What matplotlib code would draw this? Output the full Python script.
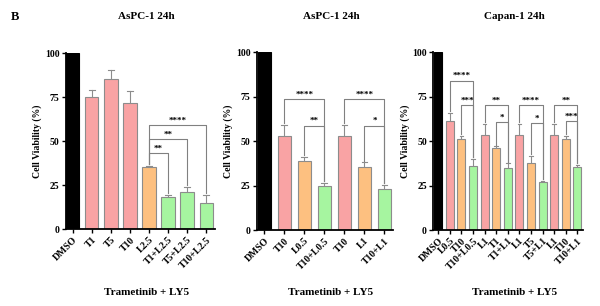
import matplotlib
matplotlib.use("Agg")
import matplotlib.pyplot as plt

plt.rcParams['font.family'] = ['Liberation Serif', 'DejaVu Serif']
plt.rcParams['font.weight'] = 'bold'

PINK, ORANGE, GREEN, BLACK = '#F9A3A4', '#FDC080', '#A6F5A0', '#000000'
EDGE = '#8C8C8C'

# Panel 1
p1_labels = ['DMSO', 'T1', 'T5', 'T10', 'L2.5', 'T1+L2.5', 'T5+L2.5', 'T10+L2.5']
p1_vals = [100, 75, 85.5, 71.5, 35, 18, 21, 15]
p1_err = [0, 4, 5, 7, 1, 1.5, 3, 4.5]
p1_cols = [BLACK, PINK, PINK, PINK, ORANGE, GREEN, GREEN, GREEN]
p1_sig = [(4, 5, 43, '**'), (4, 6, 51, '**'), (4, 7, 59, '****')]

# Panel 2
p2_labels = ['DMSO', 'T10', 'L0.5', 'T10+L0.5', 'T10', 'L1', 'T10+L1']
p2_vals = [100, 53, 39, 25, 53, 35.5, 23]
p2_err = [0, 6, 2, 1.5, 6, 2.5, 2.5]
p2_cols = [BLACK, PINK, ORANGE, GREEN, PINK, ORANGE, GREEN]
p2_sig = [(1, 3, 73.5, '****'), (2, 3, 58.5, '**'), (4, 6, 73.5, '****'), (5, 6, 58.5, '*')]

# Panel 3
p3_labels = ['DMSO', 'L0.5', 'T10', 'T10+L0.5', 'L1', 'T1', 'T1+L1', 'L1', 'T5', 'T5+L1', 'L1', 'T10', 'T10+L1']
p3_vals = [100, 61, 51, 36, 53.5, 46, 35, 53.5, 37.5, 27, 53.5, 51, 35.5]
p3_err = [0, 5, 2, 4, 6, 1, 2.5, 6, 4, 0.5, 6, 2, 1]
p3_cols = [BLACK, PINK, ORANGE, GREEN, PINK, ORANGE, GREEN, PINK, ORANGE, GREEN, PINK, ORANGE, GREEN]
p3_sig = [(1, 3, 84, '****'), (2, 3, 70, '***'),
          (4, 6, 70, '**'), (5, 6, 60.5, '*'),
          (7, 9, 70, '****'), (8, 9, 60, '*'),
          (10, 12, 70, '**'), (11, 12, 61, '***')]

titles = ['AsPC-1 24h', 'AsPC-1 24h', 'Capan-1 24h']
xlab = 'Trametinib + LY5'

fig = plt.figure(figsize=(6, 3.06), dpi=100)

panels = [
    (p1_labels, p1_vals, p1_err, p1_cols, p1_sig, [0.110, 0.2516, 0.248, 0.575], (-0.35, 7.45), 0.7),
    (p2_labels, p2_vals, p2_err, p2_cols, p2_sig, [0.428, 0.248, 0.227, 0.582], (-0.375, 6.43), 0.65),
    (p3_labels, p3_vals, p3_err, p3_cols, p3_sig, [0.722, 0.248, 0.250, 0.582], (-0.43, 12.5), 0.7),
]

for i, (labs, vals, errs, cols, sigs, rect, xl, w) in enumerate(panels):
    ax = fig.add_axes(rect)
    x = list(range(len(vals)))
    ax.bar(x, vals, width=w, color=cols, edgecolor=[BLACK if c == BLACK else EDGE for c in cols], linewidth=0.8, zorder=2)
    for xi, v, e in zip(x, vals, errs):
        if e > 0:
            ax.plot([xi, xi], [v, v + e], color=EDGE, lw=0.8, zorder=1)
            ax.plot([xi - w * 0.22, xi + w * 0.22], [v + e, v + e], color=EDGE, lw=0.8, zorder=1)
    for a, b, y, s in sigs:
        ta = vals[a] + errs[a] + 1
        tb = vals[b] + errs[b] + 1
        ax.plot([a, a, b, b], [ta, y, y, tb], color='#808080', lw=0.8, zorder=1)
        ax.text((a + b) / 2, y + 0.5, s, ha='center', va='bottom', fontsize=6.5, fontweight='bold')
    ax.set_xlim(*xl)
    ax.set_ylim(0, 100)
    ax.set_yticks([0, 25, 50, 75, 100])
    ax.set_yticklabels(['0', '25', '50', '75', '100'], fontsize=7, fontweight='bold')
    ax.set_xticks(x)
    ax.set_xticklabels(labs, rotation=45, ha='right', rotation_mode='anchor', fontsize=7, fontweight='bold')
    for sp in ['top', 'right']:
        ax.spines[sp].set_visible(False)
    for sp in ['left', 'bottom']:
        ax.spines[sp].set_linewidth(1.3)
    ax.tick_params(axis='both', width=1.0, length=3, pad=1.5)
    ax.set_ylabel('Cell Viability (%)', fontsize=7, fontweight='bold', labelpad=2)
    cx = rect[0] + rect[2] / 2
    fig.text(cx + 0.01, 0.945, titles[i], ha='center', va='center', fontsize=8, fontweight='bold')
    fig.text(cx + 0.01, 0.045, xlab, ha='center', va='center', fontsize=8, fontweight='bold')

fig.text(0.018, 0.945, 'B', ha='left', va='center', fontsize=9, fontweight='bold')

fig.savefig('out.png', dpi=100)
